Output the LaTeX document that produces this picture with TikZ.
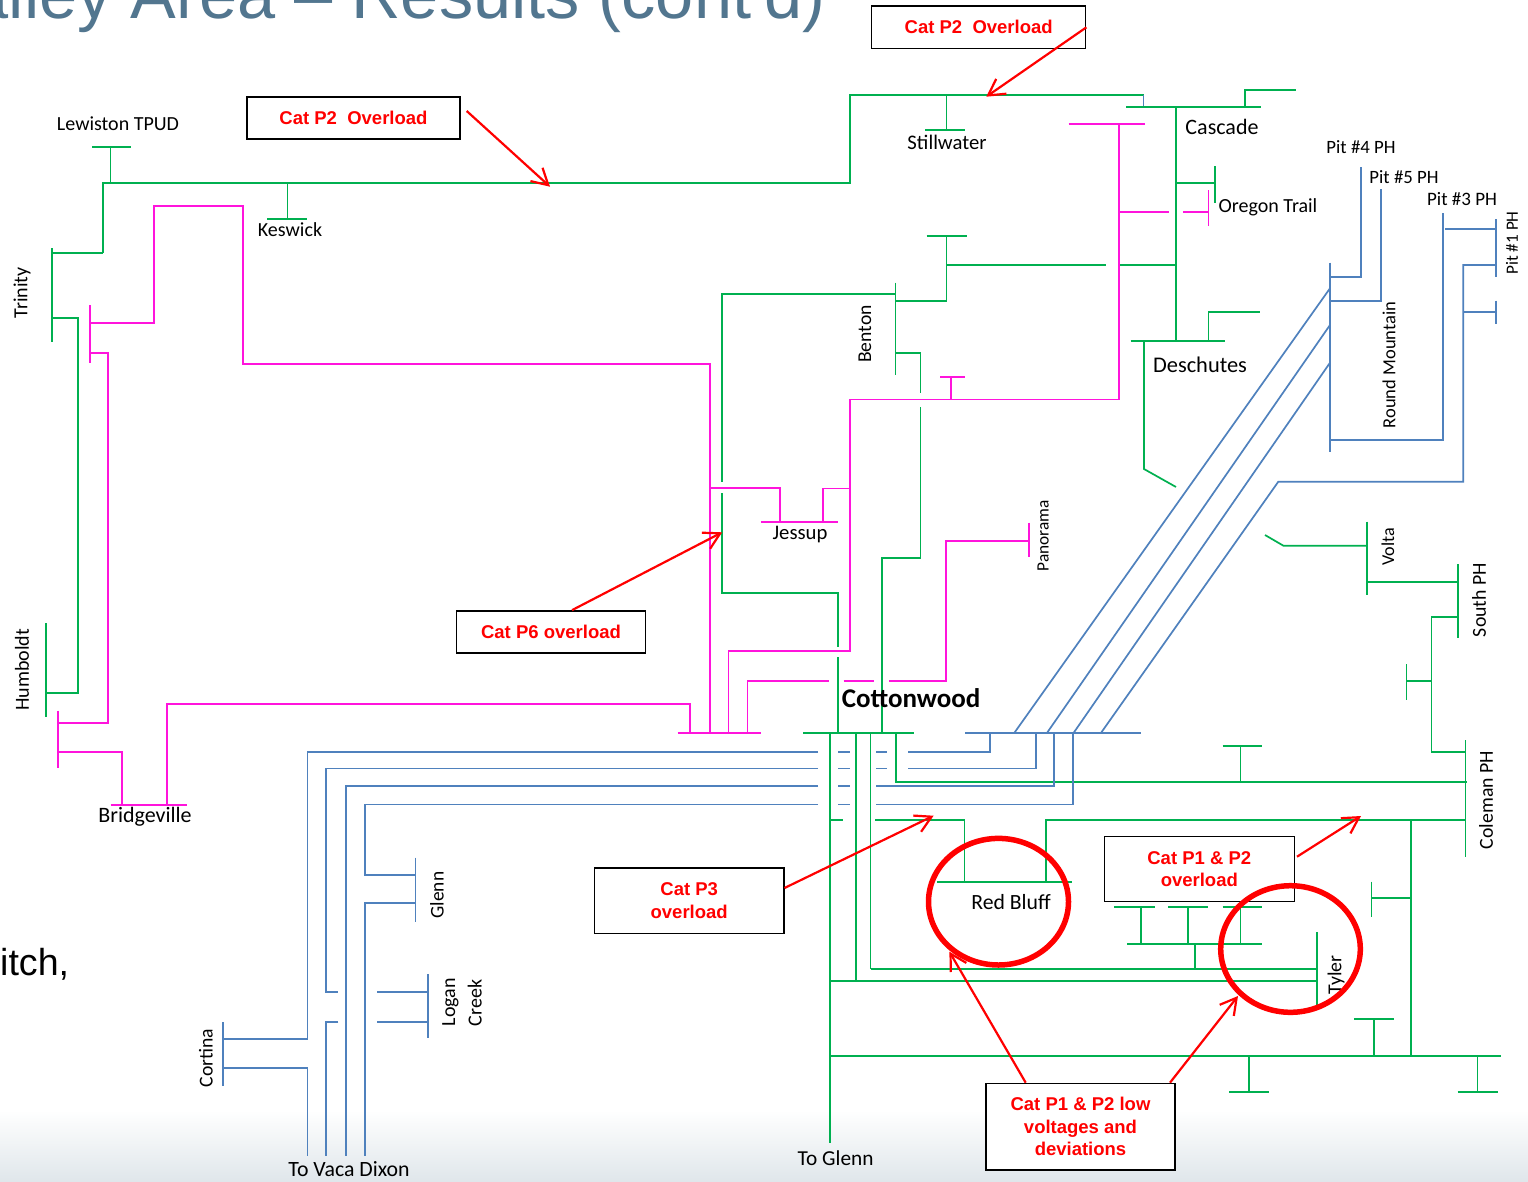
\documentclass[tikz,border=0pt]{standalone}
\usepackage{fontspec}
\usepackage{xcolor}
\setmainfont{Carlito}
\newfontfamily\arialfont{Liberation Sans}
\usetikzlibrary{arrows.meta, positioning}
\definecolor{gridgreen}{RGB}{0, 176, 80}
\definecolor{gridpink}{RGB}{255, 20, 220}
\definecolor{gridblue}{RGB}{79, 129, 189}
\definecolor{titleblue}{RGB}{82, 118, 143}

\begin{document}
\begin{tikzpicture}[
    x=1pt, y=-1pt,
    gline/.style={gridgreen, line width=1.7pt},
    pline/.style={gridpink, line width=1.7pt},
    bline/.style={gridblue, line width=1.7pt},
    lab/.style={inner sep=0pt, font=\fontsize{20}{24}\selectfont},
    callout/.style={draw=black, line width=1.4pt, fill=white, align=center, inner sep=0pt,
        text=red, font=\arialfont\bfseries\fontsize{18.5}{22.5}\selectfont},
    flag/.style={red, line width=2.2pt, -{Straight Barb[length=16pt, width=18pt]}},
    ring/.style={red, line width=5.5pt}
]
\useasboundingbox (0,0) rectangle (1528,1181);

% Slide background
\fill[white] (0,0) rectangle (1528,1181);
\shade[top color=white, bottom color=titleblue!18] (0,1110) rectangle (1528,1181);
\node[anchor=base west, inner sep=0pt, text=titleblue, font=\arialfont\fontsize{68.5}{80}\selectfont]
    (title) at (-70,18) {Valley Area – Results (cont'd)};
\node[anchor=base west, inner sep=0pt, font=\arialfont\fontsize{37.6}{44}\selectfont]
    (bullet) at (0,975) {itch,};

% Green lines: Lewiston, Keswick, Trinity, Humboldt
\draw[gline] (92,147) -- (131,147);
\draw[gline] (110.5,147) -- (110.5,183);
\draw[gline] (103,253) -- (103,183) -- (850,183) -- (850,95) -- (1143.5,95);
\draw[bline] (1143.5,95) -- (1143.5,107);
\draw[gline] (287.5,183) -- (287.5,219);
\draw[gline] (267,219) -- (307,219);
\draw[gline] (52,248) -- (52,342);
\draw[gline] (52,253) -- (103,253);
\draw[gline] (52,318) -- (78,318) -- (78,693) -- (46,693);
\draw[gline] (46,623) -- (46,717);

% Green lines: Stillwater, Cascade, Oregon Trail, Deschutes
\draw[gline] (946.6,95) -- (946.6,130);
\draw[gline] (925,130) -- (965,130);
\draw[gline] (1126,107) -- (1260.6,107);
\draw[gline] (1245,107) -- (1245,90) -- (1296,90);
\draw[gline] (1176,107) -- (1176,340.7);
\draw[gline] (1176,182.7) -- (1215,182.7);
\draw[gline] (1215,166) -- (1215,203);
\draw[gline] (1119,265) -- (1176,265);
\draw[gline] (1130.7,340.7) -- (1225,340.7);
\draw[gline] (1208.6,340.7) -- (1208.6,311.7) -- (1259.5,311.7);
\draw[gline] (1144,340.7) -- (1144,469) -- (1176,487);

% Green lines: Benton down to Cottonwood
\draw[gline] (926.5,235.7) -- (966.6,235.7);
\draw[gline] (946.6,235.7) -- (946.6,300.7) -- (895.6,300.7);
\draw[gline] (946.6,265) -- (1106,265);
\draw[gline] (895.6,282.7) -- (895.6,375);
\draw[gline] (895.6,294.3) -- (722,294.3) -- (722,482);
\draw[gline] (722,493) -- (722,593) -- (838,593) -- (838,647);
\draw[gline] (838,657) -- (838,733.3);
\draw[gline] (895.6,353.3) -- (920.6,353.3) -- (920.6,393);
\draw[gline] (920.6,407) -- (920.6,557.7) -- (882,557.7) -- (882,733.3);

% Green lines: Cottonwood south and east
\draw[gline] (803,733.3) -- (913.6,733.3);
\draw[gline] (830,733.3) -- (830,1142.7);
\draw[gline] (856.3,733.3) -- (856.3,980.7);
\draw[gline] (870.6,733.3) -- (870.6,969);
\draw[gline] (896,733.3) -- (896,781.7) -- (1467,781.7);
\draw[gline] (1240.4,781.7) -- (1240.4,745.7);
\draw[gline] (1222.7,745.7) -- (1262,745.7);
\draw[gline] (1465.6,740) -- (1465.6,856.7);
\draw[gline] (1465.6,752.3) -- (1431.5,752.3) -- (1431.5,617.3) -- (1457.7,617.3);
\draw[gline] (1457.7,564.3) -- (1457.7,638.3);
\draw[gline] (1431.5,681) -- (1406.4,681);
\draw[gline] (1406.4,664.3) -- (1406.4,700);
\draw[gline] (1366.8,521.7) -- (1366.8,595);
\draw[gline] (1457.7,581.7) -- (1366.8,581.7);
\draw[gline] (1366.8,545.7) -- (1283.4,545.7) -- (1265,535);

% Green lines: Red Bluff and Tyler
\draw[gline] (830,820) -- (843,820);
\draw[gline] (875.4,820) -- (964.6,820) -- (964.6,882.3);
\draw[gline] (937.4,882.3) -- (1072,882.3);
\draw[gline] (1045.7,882.3) -- (1045.7,820) -- (1465.6,820);
\draw[gline] (1411.2,820) -- (1411.2,1056);
\draw[gline] (830,980.7) -- (1316.7,980.7);
\draw[gline] (870.6,969) -- (1316.7,969);
\draw[gline] (1316.7,932.3) -- (1316.7,1005);
\foreach \tx/\ta/\tb in {1141/1114/1154.5, 1188/1168/1208, 1240.4/1222.7/1262} {
    \draw[gline] (\ta,907.3) -- (\tb,907.3);
    \draw[gline] (\tx,907.3) -- (\tx,944.3);
}
\draw[gline] (1127.3,944.3) -- (1262,944.3);
\draw[gline] (1195,944.3) -- (1195,969);
\draw[gline] (1371.6,881.7) -- (1371.6,917.3);
\draw[gline] (1371.6,897.7) -- (1411.2,897.7);
\draw[gline] (830,1056) -- (1501.4,1056);
\foreach \tx/\ty in {1249/1091.7, 1477.5/1091.7, 1374/1019} {
    \draw[gline] (\tx,1056) -- (\tx,\ty);
    \draw[gline] (\tx-20,\ty) -- (\tx+20,\ty);
}

% Pink lines
\draw[pline] (90,305) -- (90,363);
\draw[pline] (90,323) -- (154,323) -- (154,206) -- (243,206) -- (243,364) -- (710,364) -- (710,733.3);
\draw[pline] (90,353) -- (108,353) -- (108,722.7) -- (58,722.7);
\draw[pline] (58,710.7) -- (58,768.3);
\draw[pline] (58,751.7) -- (121.7,751.7) -- (121.7,804.7);
\draw[pline] (110.5,804.7) -- (186.6,804.7);
\draw[pline] (167,804.7) -- (167,704) -- (690,704) -- (690,733.3);
\draw[pline] (677.7,733.3) -- (760.7,733.3);
\draw[pline] (710,488) -- (780,488) -- (780,522);
\draw[pline] (761,522) -- (838,522);
\draw[pline] (823,522) -- (823,488.5) -- (850,488.5);
\draw[pline] (1068.5,124) -- (1145.4,124);
\draw[pline] (1119,124) -- (1119,399.5) -- (850,399.5) -- (850,651) -- (728.5,651) -- (728.5,733.3);
\draw[pline] (940,376.7) -- (965,376.7);
\draw[pline] (951,376.7) -- (951,399.5);
\draw[pline] (1119,212) -- (1169,212);
\draw[pline] (1183,212) -- (1208.6,212);
\draw[pline] (1208.6,190) -- (1208.6,226);
\draw[pline] (747.5,733.3) -- (747.5,680.7) -- (829,680.7);
\draw[pline] (843.6,680.7) -- (874,680.7);
\draw[pline] (889,680.7) -- (946,680.7) -- (946,541) -- (1029,541);
\draw[pline] (1029,522.7) -- (1029,556.7);

% Blue lines: Round Mountain and Pit plants
\draw[bline] (1330,262.7) -- (1330,451.7);
\draw[bline] (1330,277.3) -- (1360.7,277.3) -- (1360.7,166.7);
\draw[bline] (1330,300.7) -- (1380.7,300.7) -- (1380.7,189.3);
\draw[bline] (1330,440) -- (1443.3,440) -- (1443.3,212.7);
\draw[bline] (1495.7,219.3) -- (1495.7,276.7);
\draw[bline] (1445,229.3) -- (1495.7,229.3);
\draw[bline] (1495.7,265) -- (1463.3,265) -- (1463.3,481.7) -- (1278.3,481.7) -- (1100.7,733.3);
\draw[bline] (1463.3,311.7) -- (1495.7,311.7);
\draw[bline] (1495.7,300.7) -- (1495.7,324);
\draw[bline] (1330,288.3) -- (1014,733.3);
\draw[bline] (1330,325) -- (1046.7,733.3);
\draw[bline] (1330,362.7) -- (1073.3,733.3);
\draw[bline] (965,733.3) -- (1140.7,733.3);

% Blue lines: Cottonwood west
\draw[bline] (990,733.3) -- (990,752) -- (907.7,752);
\draw[bline] (1036,733.3) -- (1036,768.5) -- (907.7,768.5);
\draw[bline] (1054.3,733.3) -- (1054.3,786) -- (876,786);
\draw[bline] (1073,733.3) -- (1073,804.5) -- (876,804.5);
\foreach \ry in {752,768.5,786,804.5}
    \draw[bline] (838,\ry) -- (850.3,\ry);
\foreach \ry in {752,768.5}
    \draw[bline] (876,\ry) -- (887,\ry);
\draw[bline] (818,752) -- (307.6,752) -- (307.6,1039) -- (222.7,1039);
\draw[bline] (222.7,1068.3) -- (307.6,1068.3) -- (307.6,1156);
\draw[bline] (222.7,1022.3) -- (222.7,1086);
\draw[bline] (818,768.5) -- (326,768.5) -- (326,992.3) -- (338.4,992.3);
\draw[bline] (338.4,1021.7) -- (326,1021.7) -- (326,1156);
\draw[bline] (377.4,992.3) -- (428,992.3);
\draw[bline] (377.4,1021.7) -- (428,1021.7);
\draw[bline] (428,974.3) -- (428,1038.3);
\draw[bline] (818,786) -- (346.2,786) -- (346.2,1156);
\draw[bline] (818,804.5) -- (365,804.5) -- (365,874.7) -- (415.5,874.7);
\draw[bline] (415.5,903.3) -- (365,903.3) -- (365,1156);
\draw[bline] (415.5,857.7) -- (415.5,921.7);

% Station names
\node[lab] (lewiston) at (118,124) {Lewiston TPUD};
\node[lab] (keswick) at (290,230) {Keswick};
\node[lab, rotate=90] (trinity) at (22,293) {Trinity};
\node[lab, rotate=90] (humboldt) at (22,670) {Humboldt};
\node[lab, font=\fontsize{22}{26}\selectfont] (bridgeville) at (145,817) {Bridgeville};
\node[lab, font=\fontsize{20.7}{24}\selectfont] (stillwater) at (947,142) {Stillwater};
\node[lab, font=\fontsize{22}{26}\selectfont] (cascade) at (1222,127) {Cascade};
\node[lab] (oregon) at (1268,207) {Oregon Trail};
\node[lab, font=\fontsize{22.4}{26}\selectfont] (deschutes) at (1200,365) {Deschutes};
\node[lab, rotate=90, font=\fontsize{19.6}{24}\selectfont] (benton) at (865,334) {Benton};
\node[lab, font=\fontsize{20.7}{24}\selectfont] (jessup) at (800,535) {Jessup};
\node[lab, rotate=90, font=\fontsize{17.3}{20}\selectfont] (panorama) at (1043,536) {Panorama};
\node[lab, font=\bfseries\fontsize{27}{32}\selectfont] (cottonwood) at (911,698) {Cottonwood};
\node[lab, font=\fontsize{18.8}{22}\selectfont] (pit4) at (1361,147) {Pit \#4 PH};
\node[lab, font=\fontsize{18.8}{22}\selectfont] (pit5) at (1404,177) {Pit \#5 PH};
\node[lab, font=\fontsize{19}{22}\selectfont] (pit3) at (1462,199) {Pit \#3 PH};
\node[lab, rotate=90, font=\fontsize{17.2}{20}\selectfont] (pit1) at (1512,243) {Pit \#1 PH};
\node[lab, rotate=90, font=\fontsize{18.5}{22}\selectfont] (roundmtn) at (1389,365) {Round Mountain};
\node[lab, rotate=90, font=\fontsize{18.1}{22}\selectfont] (volta) at (1388,547) {Volta};
\node[lab, rotate=90, font=\fontsize{19.8}{24}\selectfont] (southph) at (1479,600) {South PH};
\node[lab, rotate=90, font=\fontsize{19.8}{24}\selectfont] (colemanph) at (1486,800) {Coleman PH};
\node[lab, font=\fontsize{21.7}{26}\selectfont] (redbluff) at (1011,902) {Red Bluff};
\node[lab, rotate=90, font=\fontsize{19.8}{24}\selectfont] (tyler) at (1336,975) {Tyler};
\node[lab, rotate=90, font=\fontsize{19.4}{24}\selectfont] (glenn) at (437,895) {Glenn};
\node[lab, rotate=90, align=left, font=\fontsize{20}{26.6}\selectfont] (logan) at (462,1002) {Logan\\Creek};
\node[lab, rotate=90, font=\fontsize{19.7}{24}\selectfont] (cortina) at (206,1058) {Cortina};
\node[lab, font=\fontsize{21.8}{26}\selectfont] (tovaca) at (349,1169) {To Vaca Dixon};
\node[lab, font=\fontsize{21.3}{26}\selectfont] (toglenn) at (835.6,1158) {To Glenn};

% Violation callouts
\node[callout, minimum width=213pt, minimum height=42pt] (cpa) at (353.5,118) {Cat P2\ \ Overload};
\node[callout, minimum width=214pt, minimum height=42.7pt] (cpb) at (978.7,27.3) {Cat P2\ \ Overload};
\node[callout, minimum width=189pt, minimum height=42.3pt] (cpsix) at (551,632) {Cat P6 overload};
\node[callout, minimum width=189.2pt, minimum height=65.3pt] (cpthree) at (689.2,900.7) {Cat P3\\overload};
\node[callout, minimum width=190pt, minimum height=65pt] (cpover) at (1199.3,869.2) {Cat P1 \& P2\\overload};
\node[callout, minimum width=189pt, minimum height=86.7pt] (cplow) at (1080.5,1126.7) {Cat P1 \& P2 low\\voltages and\\deviations};

% Problem areas
\draw[ring] (998.5,901.7) ellipse [x radius=70pt, y radius=63.3pt];
\draw[ring] (1290.5,949) ellipse [x radius=69.8pt, y radius=63.3pt];

% Arrow targets
\coordinate (hitA) at (550,186.7);
\coordinate (hitB) at (986.3,96.7);
\coordinate (hitsix) at (722.2,532.3);
\coordinate (hitthree) at (933.6,815.7);
\coordinate (hitover) at (1361,816);
\coordinate (hitbluff) at (949.4,951.7);
\coordinate (hittyler) at (1238,996);

\draw[flag] ([xshift=6pt, yshift=7pt]cpa.east) -- (hitA);
\draw[flag] (cpb.east) -- (hitB);
\draw[flag] ([xshift=21pt]cpsix.north) -- (hitsix);
\draw[flag] ([yshift=12.7pt]cpthree.east) -- (hitthree);
\draw[flag] ([xshift=2pt, yshift=12.5pt]cpover.east) -- (hitover);
\draw[flag] ([xshift=-54.8pt]cplow.north) -- (hitbluff);
\draw[flag] ([xshift=89.5pt]cplow.north) -- (hittyler);

\end{tikzpicture}
\end{document}
